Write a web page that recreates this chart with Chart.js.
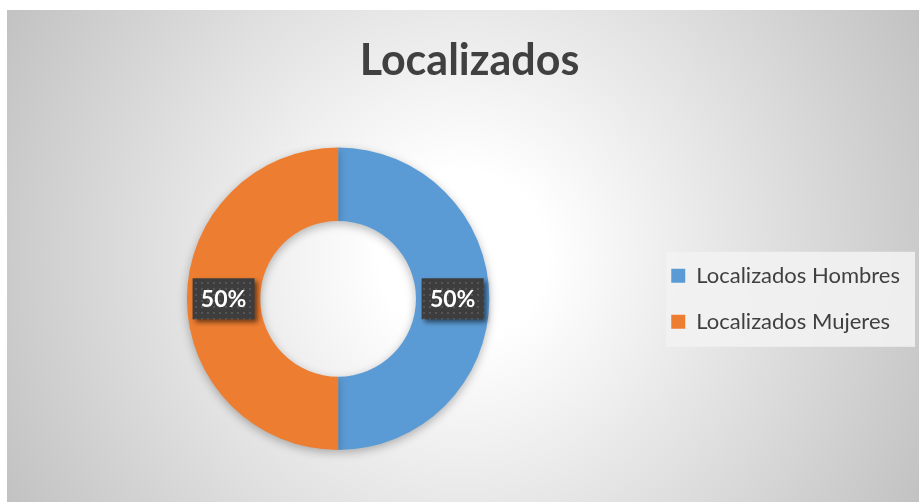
<!DOCTYPE html>
<html>
<head>
<meta charset="utf-8">
<script src="https://cdn.jsdelivr.net/npm/chart.js@4.4.1/dist/chart.umd.min.js"></script>
<style>
  html, body { margin: 0; padding: 0; background: #fff; }
  #frame {
    position: absolute; left: 7px; top: 10px; width: 912px; height: 492px;
    background: radial-gradient(circle farthest-corner at 50% 50%, #ffffff 0%, #ffffff 16%, #c2c2c2 100%);
  }
  #frame canvas { position: absolute; left: 0; top: 0; }
</style>
</head>
<body>
<div id="frame"><canvas id="donut" width="912" height="492"></canvas></div>
<script>
const chartTitle = 'Localizados';
const categories = ['Localizados Hombres', 'Localizados Mujeres'];
const values = [50, 50];
const colors = ['#5B9BD5', '#ED7D31'];

// dotted dark fill used behind the percentage labels
function makeDotPattern(ctx) {
    const tile = document.createElement('canvas');
    tile.width = 6; tile.height = 6;
    const t = tile.getContext('2d');
    t.fillStyle = '#3d3d3d';
    t.fillRect(0, 0, 6, 6);
    t.fillStyle = '#555555';
    t.fillRect(2, 2, 2, 2);
    return ctx.createPattern(tile, 'repeat');
}

const ringShadow = {
    id: 'ringShadow',
    beforeDatasetsDraw(chart) {
        const ctx = chart.ctx;
        ctx.save();
        ctx.shadowColor = 'rgba(0,0,0,0.28)';
        ctx.shadowBlur = 10;
        ctx.shadowOffsetY = 3;
    },
    afterDatasetsDraw(chart) {
        chart.ctx.restore();
    }
};

const legendBox = {
    id: 'legendBox',
    beforeDraw(chart) {
        const boxes = chart.legend.legendHitBoxes;
        if (!boxes || !boxes.length) return;
        const ctx = chart.ctx;
        const first = boxes[0], last = boxes[boxes.length - 1];
        const x0 = first.left - 5;
        const y0 = first.top - 13;
        const x1 = chart.width - 4;
        const y1 = last.top + last.height + 14;
        ctx.save();
        ctx.fillStyle = 'rgba(242,242,242,0.9)';
        ctx.fillRect(x0, y0, x1 - x0, y1 - y0);
        ctx.restore();
    }
};

const pctLabels = {
    id: 'pctLabels',
    afterDatasetsDraw(chart) {
        const ctx = chart.ctx;
        const meta = chart.getDatasetMeta(0);
        const data = chart.data.datasets[0].data;
        const total = data.reduce((a, b) => a + b, 0);
        const pattern = makeDotPattern(ctx);
        meta.data.forEach((arc, i) => {
            const pos = arc.tooltipPosition();
            const w = 62, h = 41;
            ctx.save();
            ctx.shadowColor = 'rgba(0,0,0,0.55)';
            ctx.shadowBlur = 5;
            ctx.shadowOffsetX = 3;
            ctx.shadowOffsetY = 3;
            ctx.fillStyle = pattern;
            ctx.fillRect(pos.x - w / 2, pos.y - h / 2, w, h);
            ctx.restore();
            ctx.save();
            ctx.fillStyle = '#ffffff';
            ctx.font = 'bold 23px Lato';
            ctx.textAlign = 'center';
            ctx.textBaseline = 'middle';
            ctx.fillText(Math.round(data[i] / total * 100) + '%', pos.x, pos.y + 1);
            ctx.restore();
        });
    }
};

new Chart(document.getElementById('donut'), {
    type: 'doughnut',
    data: {
        labels: categories,
        datasets: [{
            data: values,
            backgroundColor: colors,
            borderWidth: 0
        }]
    },
    options: {
        responsive: false,
        animation: false,
        cutout: '51.5%',
        layout: { padding: { left: 22, right: 9, top: 0, bottom: 52 } },
        plugins: {
            title: {
                display: true,
                text: chartTitle,
                color: '#404040',
                font: { family: 'Lato', size: 43, weight: 'bold' },
                padding: { top: 25, bottom: 61 }
            },
            legend: {
                position: 'right',
                fullSize: false,
                labels: {
                    color: '#404040',
                    font: { family: 'Lato', size: 22 },
                    boxWidth: 14,
                    boxHeight: 14,
                    padding: 24
                }
            },
            tooltip: { enabled: false }
        }
    },
    plugins: [legendBox, ringShadow, pctLabels]
});
</script>
</body>
</html>
